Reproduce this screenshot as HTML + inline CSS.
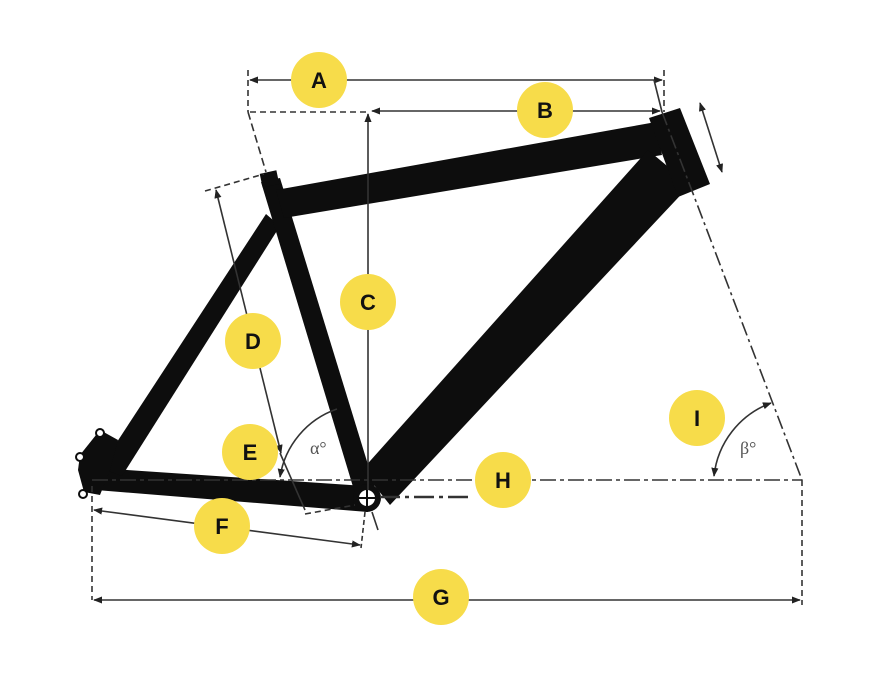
<!DOCTYPE html>
<html><head><meta charset="utf-8"><style>
html,body{margin:0;padding:0;background:#fff;}
svg{display:block;}
.lbl{font-family:"Liberation Sans",sans-serif;font-weight:bold;font-size:22px;fill:#111;text-anchor:middle;}
</style></head><body>
<svg width="872" height="686" viewBox="0 0 872 686" xmlns="http://www.w3.org/2000/svg">
<defs>
<marker id="ar" viewBox="0 0 10 10" refX="9" refY="5" markerWidth="9" markerHeight="9" orient="auto-start-reverse" markerUnits="userSpaceOnUse"><path d="M0,1 L10,5 L0,9 Z" fill="#222"/></marker>
</defs>
<g fill="#0d0d0d" stroke="none">
<!-- chainstay -->
<polygon points="98,468 365,486 368,512 96,490"/>
<!-- seat stay -->
<polygon points="100,468 266,214 280,226 122,476"/>
<!-- dropout -->
<path d="M80,455 L100,430 L118,440 L110,470 L100,495 L84,492 L78,470 Z"/>
<!-- seat tube -->
<polygon points="261,182 280,178 377,494 357,500"/>
<rect x="261" y="172" width="17" height="14" transform="rotate(-12 269 179)"/>
<!-- top tube -->
<polygon points="276,190 656,122 662,155 284,218"/>
<!-- down tube -->
<polygon points="648,150 690,185 390,505 362,470"/>
<!-- head tube -->
<polygon points="649,118 680,108 710,184 678,197"/>
<circle cx="367" cy="498" r="14"/>
</g>
<circle cx="367" cy="498" r="8" fill="#fff"/>
<line x1="359" y1="498" x2="375" y2="498" stroke="#0d0d0d" stroke-width="2"/>
<line x1="367" y1="490" x2="367" y2="506" stroke="#0d0d0d" stroke-width="2"/>
<circle cx="100" cy="433" r="4" fill="#fff" stroke="#0d0d0d" stroke-width="2"/>
<circle cx="80" cy="457" r="4" fill="#fff" stroke="#0d0d0d" stroke-width="2"/>
<circle cx="83" cy="494" r="4" fill="#fff" stroke="#0d0d0d" stroke-width="2"/>

<g stroke="#333" stroke-width="1.6" fill="none">
<line x1="250" y1="80" x2="662" y2="80" marker-start="url(#ar)" marker-end="url(#ar)"/>
<line x1="248" y1="70" x2="248" y2="112" stroke-dasharray="6,4"/>
<line x1="664" y1="70" x2="664" y2="112" stroke-dasharray="6,4"/>
<line x1="248" y1="112" x2="266" y2="172" stroke-dasharray="8,4"/>
<line x1="250" y1="112" x2="368" y2="112" stroke-dasharray="6,4"/>
<line x1="372" y1="111" x2="660" y2="111" marker-start="url(#ar)" marker-end="url(#ar)"/>
<line x1="654" y1="80" x2="662" y2="112"/>
<line x1="368" y1="490" x2="368" y2="114" marker-end="url(#ar)"/>
<line x1="216" y1="190" x2="281" y2="453" marker-start="url(#ar)" marker-end="url(#ar)"/>
<line x1="205" y1="191" x2="264" y2="174" stroke-dasharray="6,4"/>
<line x1="280" y1="453" x2="305" y2="510"/>
<line x1="305" y1="514" x2="355" y2="505" stroke-dasharray="6,4"/>
<line x1="700" y1="103" x2="722" y2="172" marker-start="url(#ar)" marker-end="url(#ar)"/>
<line x1="662" y1="112" x2="802" y2="480" stroke-dasharray="14,4,3,4"/>
<line x1="92" y1="480" x2="802" y2="480" stroke-dasharray="16,4,4,4"/>
<line x1="380" y1="497" x2="470" y2="497" stroke-dasharray="20,5,4,5" stroke-width="2.5"/>
<path d="M337,409 A86,86 0 0 0 280,477" marker-end="url(#ar)"/>
<path d="M714,476 A88,88 0 0 1 771,403" marker-start="url(#ar)" marker-end="url(#ar)"/>
<line x1="94" y1="510" x2="360" y2="545" marker-start="url(#ar)" marker-end="url(#ar)"/>
<line x1="92" y1="486" x2="92" y2="600" stroke-dasharray="6,4"/>
<line x1="365" y1="512" x2="361" y2="548" stroke-dasharray="5,3"/>
<line x1="372" y1="512" x2="378" y2="530"/>
<line x1="94" y1="600" x2="800" y2="600" marker-start="url(#ar)" marker-end="url(#ar)"/>
<line x1="802" y1="480" x2="802" y2="605" stroke-dasharray="6,4"/>
</g>
<text x="310" y="454" font-family="Liberation Serif,serif" font-size="18" fill="#555">α°</text>
<text x="740" y="454" font-family="Liberation Serif,serif" font-size="18" fill="#555">β°</text>

<g fill="#F7DC4A">
<circle cx="319" cy="80" r="28"/><circle cx="545" cy="110" r="28"/><circle cx="368" cy="302" r="28"/>
<circle cx="253" cy="341" r="28"/><circle cx="250" cy="452" r="28"/><circle cx="222" cy="526" r="28"/>
<circle cx="441" cy="597" r="28"/><circle cx="503" cy="480" r="28"/><circle cx="697" cy="418" r="28"/>
</g>
<g class="lbl">
<text x="319" y="88" class="lbl">A</text><text x="545" y="118" class="lbl">B</text><text x="368" y="310" class="lbl">C</text>
<text x="253" y="349" class="lbl">D</text><text x="250" y="460" class="lbl">E</text><text x="222" y="534" class="lbl">F</text>
<text x="441" y="605" class="lbl">G</text><text x="503" y="488" class="lbl">H</text><text x="697" y="426" class="lbl">I</text>
</g>
</svg>
</body></html>
